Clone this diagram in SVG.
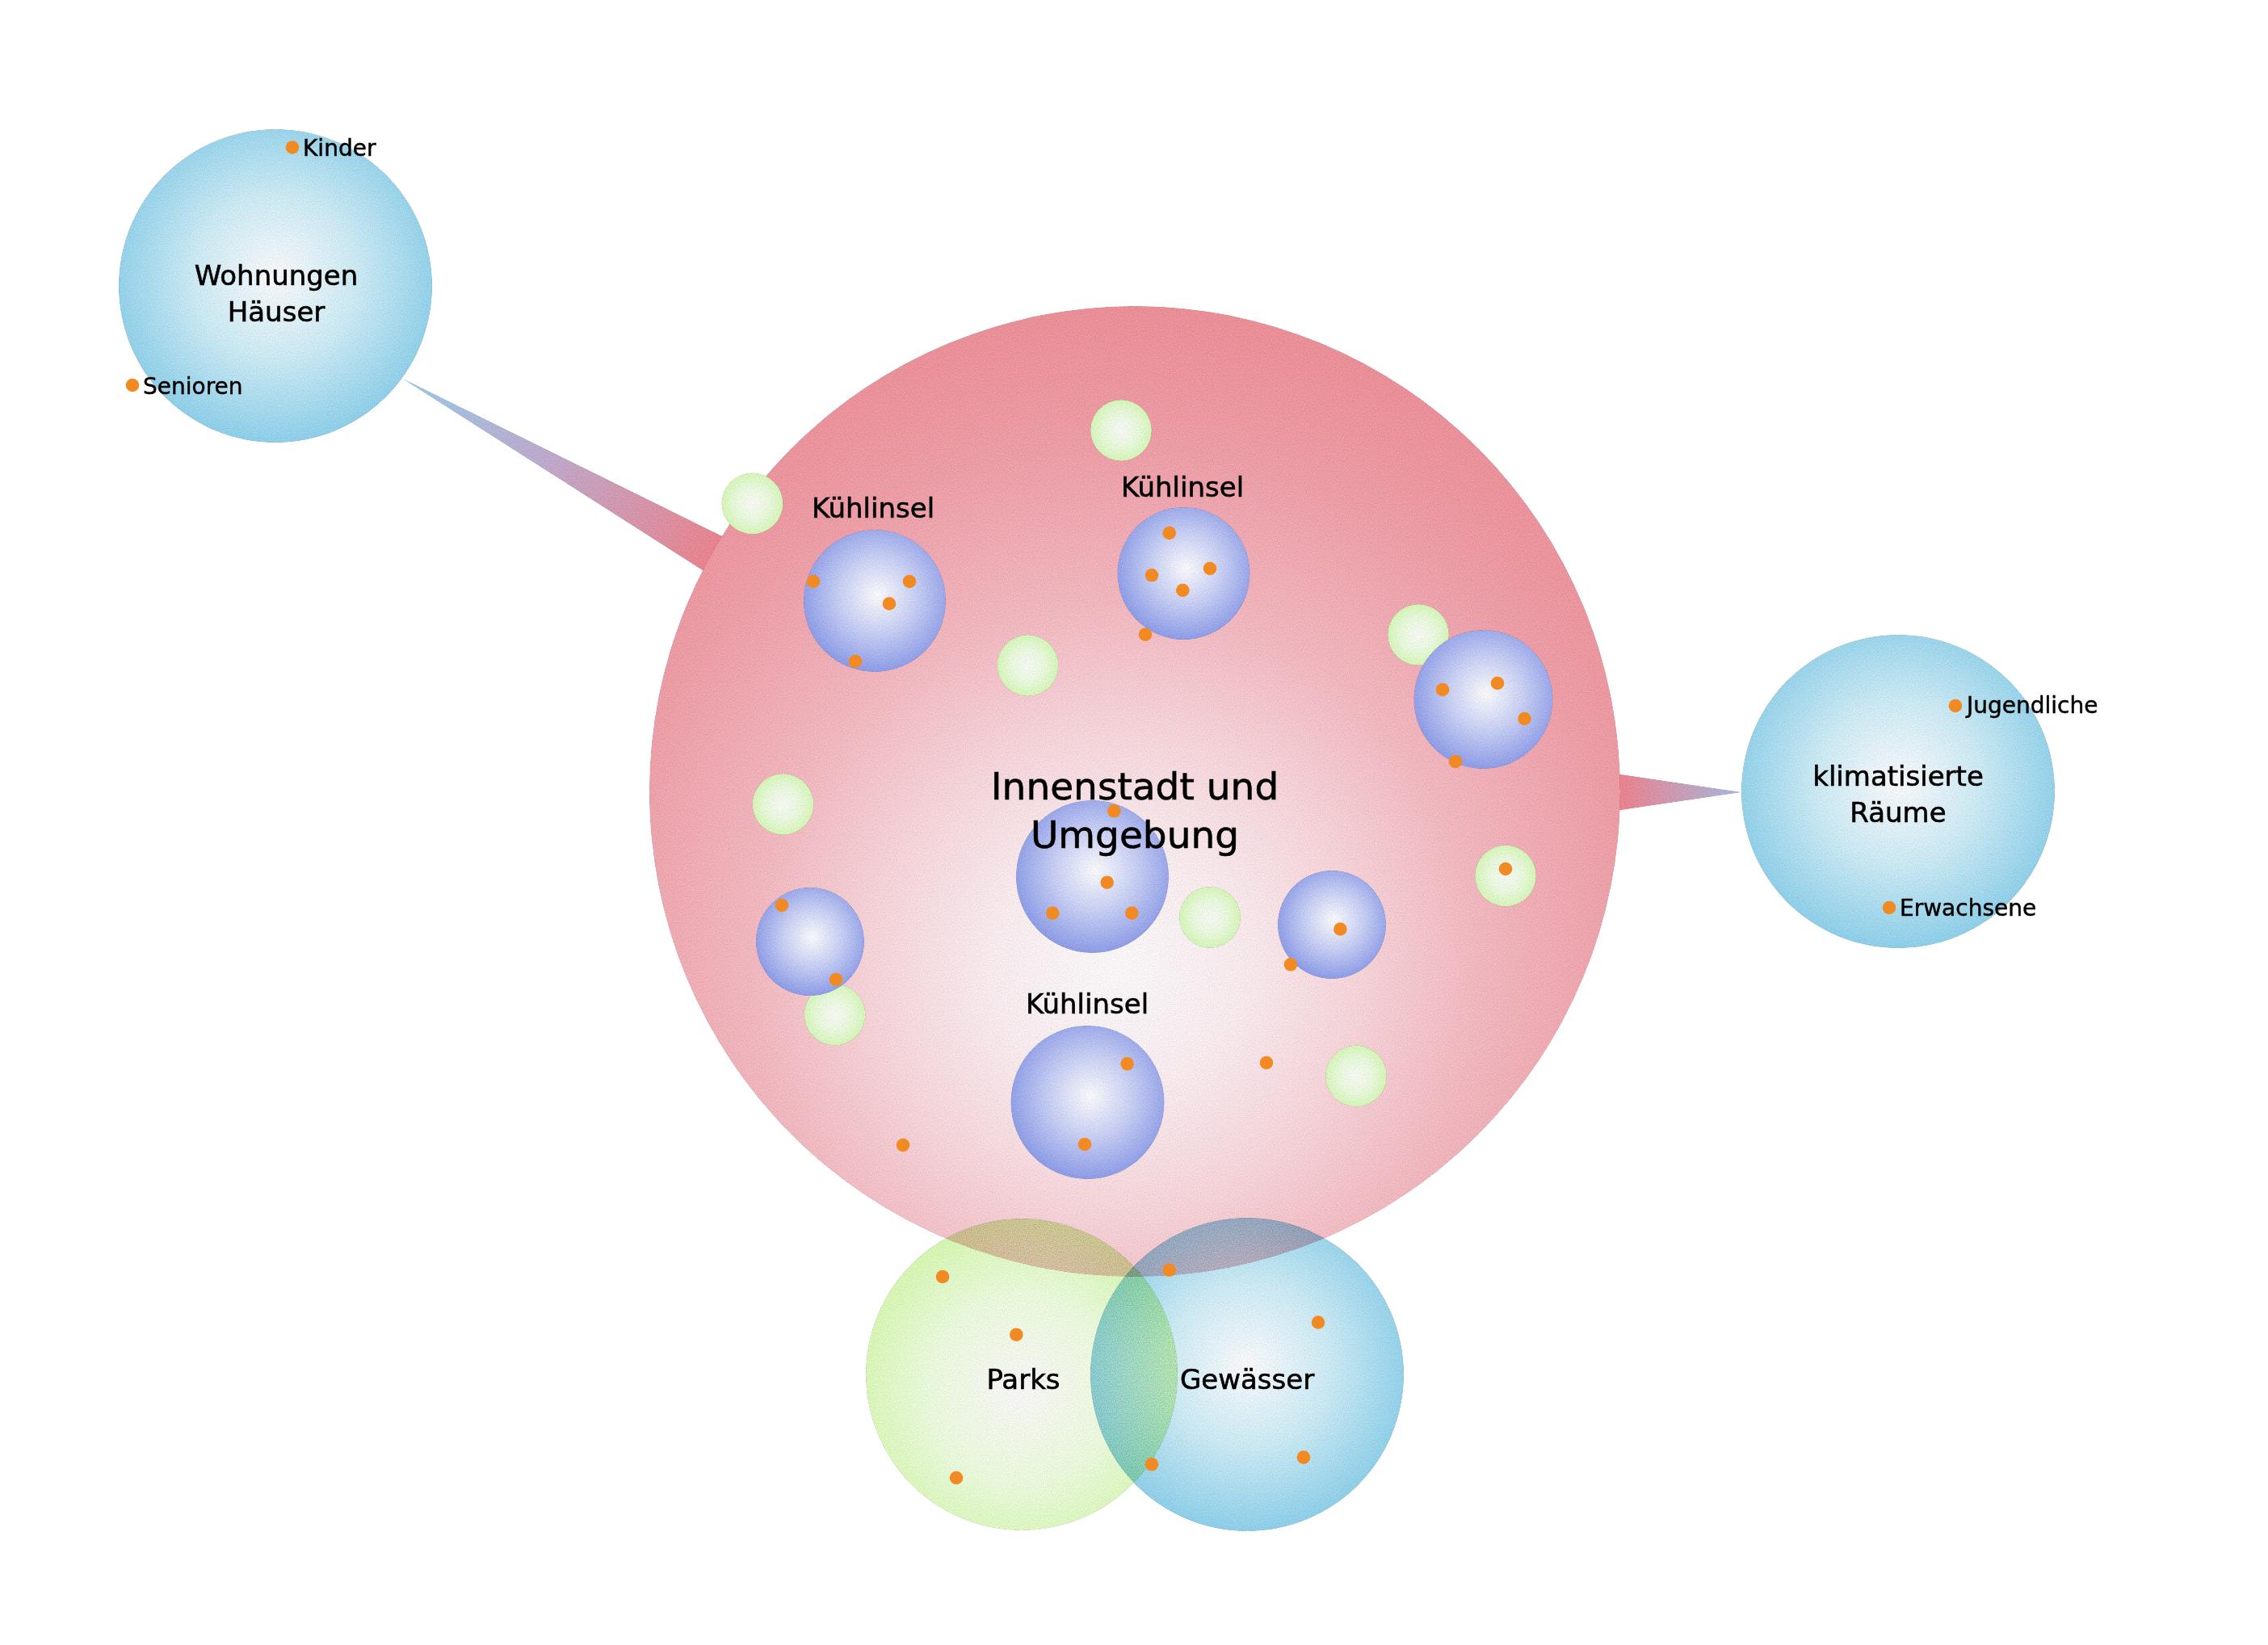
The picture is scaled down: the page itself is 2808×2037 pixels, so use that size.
<svg xmlns="http://www.w3.org/2000/svg" width="2808" height="2037" viewBox="0 0 2808 2037">
<defs>
  <filter id="grain" x="0" y="0" width="1" height="1" color-interpolation-filters="sRGB">
    <feTurbulence type="fractalNoise" baseFrequency="0.85" numOctaves="1" seed="4" result="n"/>
    <feColorMatrix in="n" type="matrix" values="1 0 0 0 0  0 1 0 0 0  0 0 1 0 0  0 0 0 0 1" result="n1"/>
    <feComposite in="SourceGraphic" in2="n1" operator="arithmetic" k1="0" k2="1" k3="0.28" k4="-0.14" result="c"/>
    <feComposite in="c" in2="SourceGraphic" operator="in"/>
  </filter>
  <radialGradient id="gBig" gradientUnits="userSpaceOnUse" cx="1380" cy="1200" r="1000">
    <stop offset="0" stop-color="#F8F5F7"/>
    <stop offset="0.15" stop-color="#F6E9EC"/>
    <stop offset="0.3" stop-color="#F3D2D7"/>
    <stop offset="0.45" stop-color="#EFB6BE"/>
    <stop offset="0.65" stop-color="#EB9CA5"/>
    <stop offset="0.9" stop-color="#E8878F"/>
    <stop offset="1" stop-color="#E7838D"/>
  </radialGradient>
  <radialGradient id="gBlue" cx="0.5" cy="0.47" r="0.53">
    <stop offset="0" stop-color="#F6F6F9"/>
    <stop offset="0.5" stop-color="#C9E7F1"/>
    <stop offset="1" stop-color="#8DCDE7"/>
  </radialGradient>
  <radialGradient id="gCool" cx="0.52" cy="0.46" r="0.54">
    <stop offset="0" stop-color="#F7F7FA"/>
    <stop offset="0.5" stop-color="#C5CCF1"/>
    <stop offset="1" stop-color="#8C9BE5"/>
  </radialGradient>
  <radialGradient id="gGreen" cx="0.5" cy="0.5" r="0.5">
    <stop offset="0" stop-color="#F5F6F2"/>
    <stop offset="0.55" stop-color="#E6F6DA"/>
    <stop offset="1" stop-color="#D3F3B5"/>
  </radialGradient>
  <radialGradient id="gPark" cx="0.5" cy="0.55" r="0.55">
    <stop offset="0" stop-color="#F5F4F3"/>
    <stop offset="0.55" stop-color="#E8F7DA"/>
    <stop offset="1" stop-color="#D3F4AE"/>
  </radialGradient>
  <linearGradient id="gWedgeL" gradientUnits="userSpaceOnUse" x1="497" y1="468" x2="880" y2="690">
    <stop offset="0" stop-color="#98C9E7"/>
    <stop offset="0.45" stop-color="#BCA9CC"/>
    <stop offset="1" stop-color="#E7838E"/>
  </linearGradient>
  <linearGradient id="gWedgeR" gradientUnits="userSpaceOnUse" x1="2156" y1="981" x2="2006" y2="981">
    <stop offset="0" stop-color="#A6B6DE"/>
    <stop offset="1" stop-color="#E8828D"/>
  </linearGradient>
</defs>
<style>
  text { font-family: "DejaVu Sans", "Liberation Sans", sans-serif; fill: #000; stroke: #000; stroke-width: 0.6px; }
  .title { font-size: 47px; text-anchor: middle; }
  .lbl { font-size: 34px; text-anchor: middle; }
  .small { font-size: 28px; stroke-width: 0.45px; }
  .dot { fill: #F28A24; }
  .gr { filter: url(#grain); }
  .cool { fill: url(#gCool); }
  .grn { fill: url(#gGreen); }
  .blend { mix-blend-mode: multiply; }
</style>
<rect width="2808" height="2037" fill="#FFFFFF"/>

<g id="connectors">
  <polygon class="gr" points="497,468 1433,930 1377,1030" fill="url(#gWedgeL)"/>
  <polygon class="gr" points="2156,981 1405,870 1405,1092" fill="url(#gWedgeR)"/>
</g>

<g id="node-innenstadt">
  <circle class="gr" cx="1405" cy="980" r="601" fill="url(#gBig)"/>
</g>

<g id="green-spots">
  <circle class="grn gr" cx="1388" cy="533" r="38"/>
  <circle class="grn gr" cx="931.5" cy="623.5" r="38"/>
  <circle class="grn gr" cx="1272.5" cy="824" r="38"/>
  <circle class="grn gr" cx="1756" cy="786" r="38"/>
  <circle class="grn gr" cx="969.5" cy="996" r="38"/>
  <circle class="grn gr" cx="1864" cy="1084.5" r="38"/>
  <circle class="grn gr" cx="1498" cy="1136" r="38"/>
  <circle class="grn gr" cx="1033.5" cy="1256.5" r="38"/>
  <circle class="grn gr" cx="1679" cy="1332.5" r="38"/>
</g>

<g id="node-kuehlinsel-1">
  <circle class="cool gr" cx="1083" cy="744" r="88"/>
  <text class="lbl" x="1081" y="641">Kühlinsel</text>
</g>
<g id="node-kuehlinsel-2">
  <circle class="cool gr" cx="1465.5" cy="710" r="82"/>
  <text class="lbl" x="1464" y="615">Kühlinsel</text>
</g>
<g id="node-kuehlinsel-3">
  <circle class="cool gr" cx="1836.5" cy="866" r="86"/>
</g>
<g id="node-kuehlinsel-4">
  <circle class="cool gr" cx="1352.5" cy="1085.5" r="94.5"/>
</g>
<g id="node-kuehlinsel-5">
  <circle class="cool gr" cx="1003" cy="1166" r="67"/>
</g>
<g id="node-kuehlinsel-6">
  <circle class="cool gr" cx="1649" cy="1145" r="67"/>
</g>
<g id="node-kuehlinsel-7">
  <circle class="cool gr" cx="1346.5" cy="1365" r="95"/>
  <text class="lbl" x="1346" y="1255">Kühlinsel</text>
</g>

<g id="node-parks">
  <circle class="blend gr" cx="1265" cy="1702" r="193" fill="url(#gPark)"/>
</g>
<g id="node-gewaesser">
  <circle class="blend gr" cx="1544" cy="1702" r="194" fill="url(#gBlue)"/>
</g>

<g id="node-innenstadt-label">
  <text class="title" x="1405" y="990">Innenstadt und</text>
  <text class="title" x="1405" y="1050">Umgebung</text>
</g>
<g id="label-parks"><text class="lbl" x="1267" y="1720">Parks</text></g>
<g id="label-gewaesser"><text class="lbl" x="1544" y="1720">Gewässer</text></g>

<g id="node-wohnungen">
  <circle class="gr" cx="341" cy="354" r="194" fill="url(#gBlue)"/>
  <text class="lbl" x="342" y="353">Wohnungen</text>
  <text class="lbl" x="342" y="398">Häuser</text>
  <circle class="dot" cx="362" cy="182.5" r="8.3"/>
  <text class="small" x="375" y="192.5">Kinder</text>
  <circle class="dot" cx="164" cy="477" r="8.3"/>
  <text class="small" x="177" y="488">Senioren</text>
</g>

<g id="node-klima">
  <circle class="gr" cx="2350" cy="980" r="194" fill="url(#gBlue)"/>
  <text class="lbl" x="2350" y="973">klimatisierte</text>
  <text class="lbl" x="2350" y="1018">Räume</text>
  <circle class="dot" cx="2421" cy="874" r="8.3"/>
  <text class="small" x="2435" y="883">Jugendliche</text>
  <circle class="dot" cx="2339" cy="1124" r="8.3"/>
  <text class="small" x="2352" y="1133.5">Erwachsene</text>
</g>

<g id="points">
  <circle class="dot" cx="1007" cy="720" r="8.3"/>
  <circle class="dot" cx="1126" cy="720" r="8.3"/>
  <circle class="dot" cx="1101" cy="747.5" r="8.3"/>
  <circle class="dot" cx="1059" cy="819" r="8.3"/>
  <circle class="dot" cx="1447.7" cy="660" r="8.3"/>
  <circle class="dot" cx="1426" cy="712.3" r="8.3"/>
  <circle class="dot" cx="1498" cy="704" r="8.3"/>
  <circle class="dot" cx="1464.3" cy="731" r="8.3"/>
  <circle class="dot" cx="1418" cy="785.7" r="8.3"/>
  <circle class="dot" cx="1786" cy="854" r="8.3"/>
  <circle class="dot" cx="1854" cy="846" r="8.3"/>
  <circle class="dot" cx="1887.5" cy="890" r="8.3"/>
  <circle class="dot" cx="1802" cy="943" r="8.3"/>
  <circle class="dot" cx="1379.3" cy="1004.3" r="8.3"/>
  <circle class="dot" cx="1370.7" cy="1092.7" r="8.3"/>
  <circle class="dot" cx="1303.3" cy="1130.7" r="8.3"/>
  <circle class="dot" cx="1401.3" cy="1130.7" r="8.3"/>
  <circle class="dot" cx="968" cy="1121" r="8.3"/>
  <circle class="dot" cx="1035" cy="1213" r="8.3"/>
  <circle class="dot" cx="1864" cy="1076" r="8.3"/>
  <circle class="dot" cx="1659.4" cy="1150.5" r="8.3"/>
  <circle class="dot" cx="1598" cy="1194.3" r="8.3"/>
  <circle class="dot" cx="1395.7" cy="1317.3" r="8.3"/>
  <circle class="dot" cx="1343" cy="1417" r="8.3"/>
  <circle class="dot" cx="1568" cy="1316" r="8.3"/>
  <circle class="dot" cx="1118" cy="1418" r="8.3"/>
  <circle class="dot" cx="1167" cy="1581" r="8.3"/>
  <circle class="dot" cx="1258.3" cy="1652.7" r="8.3"/>
  <circle class="dot" cx="1184" cy="1830" r="8.3"/>
  <circle class="dot" cx="1426" cy="1813.3" r="8.3"/>
  <circle class="dot" cx="1447.7" cy="1572.7" r="8.3"/>
  <circle class="dot" cx="1632" cy="1637.5" r="8.3"/>
  <circle class="dot" cx="1614" cy="1804.6" r="8.3"/>
</g>
</svg>
